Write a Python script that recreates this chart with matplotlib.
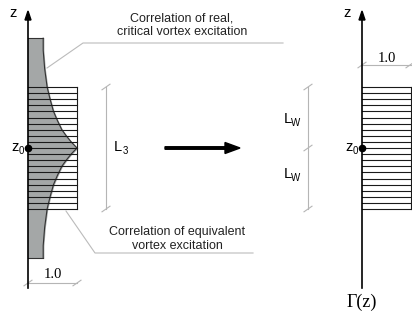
import numpy as np
import matplotlib
matplotlib.use("Agg")
import matplotlib.pyplot as plt
from matplotlib.patches import Polygon, FancyArrow

# ---- data (normalised) ----
# distance from z0 in units of half-L3, correlation (fraction of 1.0)
dz_rel = [0.0, 0.1, 0.2, 0.3, 0.45, 0.6, 0.8, 1.0, 1.3, 1.6, 1.8]
corr_real = [1.0, 0.88, 0.78, 0.69, 0.60, 0.52, 0.45, 0.39, 0.34, 0.31, 0.31]
n_stripes = 20
equiv_value = 1.0
title_top = "Correlation of real,\ncritical vortex excitation"
title_bot = "Correlation of equivalent\nvortex excitation"

# ---- layout (pixel coordinates) ----
W, H = 412, 311
fig = plt.figure(figsize=(W / 100, H / 100), dpi=100)
ax = fig.add_axes([0, 0, 1, 1])
ax.set_xlim(0, W)
ax.set_ylim(H, 0)
ax.axis("off")

xl, xr = 28, 362          # left / right axes
z0 = 148
half = 61                  # half of L3 in px
unit = 49                  # 1.0 in px
gray = "#a4a7a7"
dimc = "#b5b5b5"
sans = "Liberation Sans"
serif = "Liberation Serif"

# gray correlation shape
d = np.array(dz_rel) * half
c = np.array(corr_real) * unit
ys = np.concatenate([z0 - d[::-1], z0 + d[1:]])
xs = np.concatenate([c[::-1], c[1:]])
ax.fill_betweenx(ys, xl, xl + xs, color=gray, zorder=1)
ax.plot(xl + xs, ys, color="#333333", lw=0.8, zorder=2)
ax.plot([xl, xl + xs[0]], [ys[0], ys[0]], color="#333333", lw=0.8, zorder=2)
ax.plot([xl, xl + xs[-1]], [ys[-1], ys[-1]], color="#333333", lw=0.8, zorder=2)

# striped equivalent boxes
def stripes(x0):
    yy = np.linspace(z0 - half, z0 + half, n_stripes + 1)
    for y in yy:
        ax.plot([x0, x0 + equiv_value * unit], [y, y], color="#1a1a1a", lw=0.8, zorder=3)
    ax.plot([x0 + equiv_value * unit] * 2, [yy[0], yy[-1]], color="#1a1a1a", lw=0.8, zorder=3)

stripes(xl)
stripes(xr)

# axes with arrows
for x in (xl, xr):
    ax.plot([x, x], [288, 18], color="black", lw=1.2, zorder=4)
    ax.add_patch(Polygon([[x - 3, 20], [x + 3, 20], [x, 11]], closed=True, color="black", zorder=4))
    ax.plot([x], [z0], "o", color="black", ms=4.5, zorder=5)

fs_lab = 10.5
fs_sub = 7
ax.text(13, 13, "z", fontsize=fs_lab, family=sans, ha="center", va="center")
ax.text(347, 13, "z", fontsize=fs_lab, family=sans, ha="center", va="center")
ax.text(15, 147, "z", fontsize=fs_lab, family=sans, ha="center", va="center")
ax.text(21, 151, "0", fontsize=fs_sub, family=sans, ha="center", va="center")
ax.text(349, 147, "z", fontsize=fs_lab, family=sans, ha="center", va="center")
ax.text(355, 151, "0", fontsize=fs_sub, family=sans, ha="center", va="center")

# dimension helpers
def tick(x, y, s=4):
    ax.plot([x - s, x + s], [y + s * 0.7, y - s * 0.7], color=dimc, lw=0.8)

# L3
ax.plot([106, 106], [z0 - half, z0 + half], color=dimc, lw=0.8)
tick(106, z0 - half); tick(106, z0 + half)
ax.text(118, 147, "L", fontsize=fs_lab, family=sans, ha="center", va="center")
ax.text(125, 151, "3", fontsize=fs_sub, family=sans, ha="center", va="center")

# Lw
ax.plot([308, 308], [z0 - half, z0 + half], color=dimc, lw=0.8)
tick(308, z0 - half); tick(308, z0); tick(308, z0 + half)
for yy in (119, 174):
    ax.text(288, yy, "L", fontsize=fs_lab, family=sans, ha="center", va="center")
    ax.text(296, yy + 4, "W", fontsize=fs_sub, family=sans, ha="center", va="center")

# 1.0 dims
ax.plot([xl, xl + unit], [283, 283], color=dimc, lw=0.8)
tick(xl, 283); tick(xl + unit, 283)
ax.text(xl + unit / 2, 275, "1.0", fontsize=10.5, family=serif, ha="center", va="center")
ax.plot([xr, xr + unit], [65, 65], color=dimc, lw=0.8)
tick(xr, 65); tick(xr + unit - 1, 65)
ax.text(xr + unit / 2, 58, "1.0", fontsize=10.5, family=serif, ha="center", va="center")
ax.text(xr, 302, "Γ(z)", fontsize=13, family=serif, ha="center", va="center")

# big arrow
ax.add_patch(FancyArrow(165, z0, 60, 0, width=2.5, head_width=11, head_length=15,
                        length_includes_head=False, color="black"))

# captions + leader lines
ax.text(182, 25, title_top, fontsize=9, family=sans, ha="center", va="center",
        linespacing=1.15, color="#222222")
ax.plot([47, 83, 283], [68, 43, 43], color="#bbbbbb", lw=0.8, zorder=6)
ax.text(177, 239, title_bot, fontsize=9, family=sans, ha="center", va="center",
        linespacing=1.15, color="#222222")
ax.plot([66, 95, 253], [211, 253, 253], color="#bbbbbb", lw=0.8, zorder=6)

fig.savefig("out.png", dpi=100)
